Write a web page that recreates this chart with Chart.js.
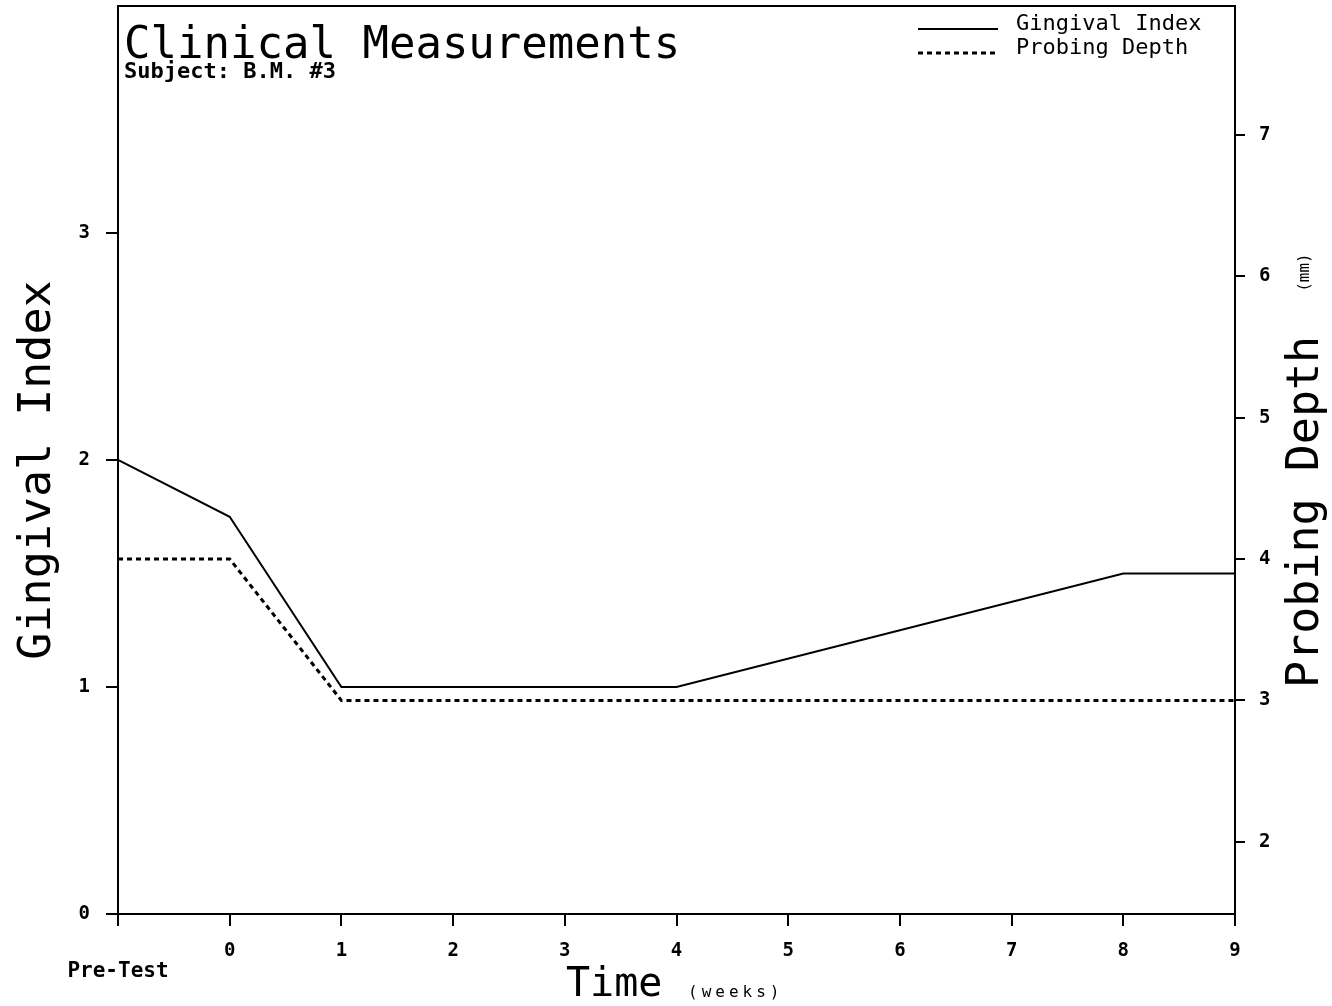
<!DOCTYPE html>
<html>
<head>
<meta charset="utf-8">
<script src="https://cdn.jsdelivr.net/npm/chart.js@4"></script>
<style>
  html, body { margin: 0; padding: 0; background: #fff; }
  canvas { display: block; }
</style>
</head>
<body>
<canvas id="chart" width="1332" height="1006"></canvas>
<script>
// Measurement weeks (-1 = pre-test visit)
const weeks = [-1, 0, 1, 4, 8, 9];
const gingivalIndex = [2.0, 1.75, 1.0, 1.0, 1.5, 1.5];
const probingDepth = [4.0, 4.0, 3.0, 3.0, 3.0, 3.0];

// Axis ticks
const xTickValues = [-1, 0, 1, 2, 3, 4, 5, 6, 7, 8, 9];
const xTickLabels = ['Pre-Test', '0', '1', '2', '3', '4', '5', '6', '7', '8', '9'];
const giTicks = [0, 1, 2, 3];
const pdTicks = [2, 3, 4, 5, 6, 7];

// Text
const titleText = 'Clinical Measurements';
const subtitleText = 'Subject: B.M. #3';
const giTitle = 'Gingival Index';
const pdTitle = 'Probing Depth';
const pdUnit = '(mm)';
const timeTitle = 'Time';
const timeUnit = '(weeks)';
const seriesNames = ['Gingival Index', 'Probing Depth'];

const MONO = '"DejaVu Sans Mono", monospace';

const toPoints = (xs, ys) => xs.map((x, i) => ({ x, y: ys[i] }));

// Frame, title block, legend and axis titles drawn on top of the chart
const decorations = {
  id: 'decorations',
  afterDraw(chart) {
    const { ctx, chartArea: a } = chart;
    ctx.save();
    ctx.strokeStyle = '#000';
    ctx.fillStyle = '#000';
    ctx.lineWidth = 2;
    ctx.beginPath();
    ctx.moveTo(a.left - 1, a.top);
    ctx.lineTo(a.right + 1, a.top);
    ctx.stroke();

    // title block
    ctx.textAlign = 'left';
    ctx.textBaseline = 'alphabetic';
    ctx.font = '44px ' + MONO;
    ctx.fillText(titleText, a.left + 6, a.top + 52);
    ctx.font = 'bold 22px ' + MONO;
    ctx.fillText(subtitleText, a.left + 6, a.top + 72);

    // legend
    chart.data.datasets.forEach((ds, i) => {
      const y = a.top + 23 + i * 24;
      ctx.save();
      ctx.lineWidth = ds.borderWidth;
      ctx.setLineDash(ds.borderDash || []);
      ctx.beginPath();
      ctx.moveTo(918, y);
      ctx.lineTo(998, y);
      ctx.stroke();
      ctx.restore();
      ctx.font = '22px ' + MONO;
      ctx.fillText(ds.label, 1016, y + 1);
    });

    // left axis title
    ctx.save();
    ctx.translate(50, (a.top + a.bottom) / 2 + 10);
    ctx.rotate(-Math.PI / 2);
    ctx.textAlign = 'center';
    ctx.font = '45px ' + MONO;
    ctx.fillText(giTitle, 0, 0);
    ctx.restore();

    // right axis title with unit
    ctx.save();
    ctx.translate(1318, 688);
    ctx.rotate(-Math.PI / 2);
    ctx.textAlign = 'left';
    ctx.font = '45px ' + MONO;
    ctx.fillText(pdTitle, 0, 0);
    const w = ctx.measureText(pdTitle).width;
    ctx.font = '16px ' + MONO;
    ctx.fillText(pdUnit, w + 44, -9);
    ctx.restore();

    // bottom axis title with unit
    ctx.textAlign = 'left';
    ctx.font = '40px ' + MONO;
    ctx.fillText(timeTitle, 566, 996);
    ctx.font = '16px ' + MONO;
    ctx.letterSpacing = '4px';
    ctx.fillText(timeUnit, 688, 997);
    ctx.restore();
  }
};

const axisStyle = {
  border: { display: true, color: '#000', width: 2 },
  grid: { drawOnChartArea: false, drawTicks: true, tickLength: 12, color: '#000', lineWidth: 2 }
};

const fixSize = (prop, size) => (s) => {
  s[prop] = size;
  s.paddingTop = 0; s.paddingBottom = 0; s.paddingLeft = 0; s.paddingRight = 0;
};

new Chart(document.getElementById('chart'), {
  type: 'line',
  data: {
    datasets: [
      {
        label: seriesNames[0],
        data: toPoints(weeks, gingivalIndex),
        yAxisID: 'yGI',
        borderColor: '#000',
        borderWidth: 2,
        pointRadius: 0,
        tension: 0,
        fill: false
      },
      {
        label: seriesNames[1],
        data: toPoints(weeks, probingDepth),
        yAxisID: 'yPD',
        borderColor: '#000',
        borderWidth: 3,
        borderDash: [5, 4],
        pointRadius: 0,
        tension: 0,
        fill: false
      }
    ]
  },
  options: {
    responsive: false,
    devicePixelRatio: 1,
    animation: false,
    layout: { padding: { top: 6, left: 0, right: 0, bottom: 0 } },
    plugins: { legend: { display: false }, tooltip: { enabled: false }, title: { display: false } },
    scales: {
      x: {
        type: 'linear',
        position: 'bottom',
        min: -1,
        max: 9,
        ...axisStyle,
        afterBuildTicks: (s) => { s.ticks = xTickValues.map(v => ({ value: v })); },
        afterFit: fixSize('height', 92),
        ticks: {
          color: '#000',
          padding: 16,
          maxRotation: 0,
          autoSkip: false,
          font: (c) => c.tick && c.tick.value === -1
            ? { family: MONO, size: 21, weight: 'bold', lineHeight: 0.95 }
            : { family: MONO, size: 19, weight: 'bold', lineHeight: 0.95 },
          callback: (v) => {
            const i = xTickValues.indexOf(v);
            const t = xTickLabels[i];
            return v === -1 ? ['', t] : t;
          }
        }
      },
      yGI: {
        type: 'linear',
        position: 'left',
        min: 0,
        max: 4,
        ...axisStyle,
        afterBuildTicks: (s) => { s.ticks = giTicks.map(v => ({ value: v })); },
        afterFit: fixSize('width', 118),
        ticks: { color: '#000', padding: 16, font: { family: MONO, size: 19, weight: 'bold' } }
      },
      yPD: {
        type: 'linear',
        position: 'right',
        min: 1.49,
        max: 7.91,
        ...axisStyle,
        grid: { ...axisStyle.grid, tickLength: 10 },
        afterBuildTicks: (s) => { s.ticks = pdTicks.map(v => ({ value: v })); },
        afterFit: fixSize('width', 97),
        ticks: { color: '#000', padding: 14, font: { family: MONO, size: 19, weight: 'bold' } }
      }
    }
  },
  plugins: [decorations]
});
</script>
</body>
</html>
